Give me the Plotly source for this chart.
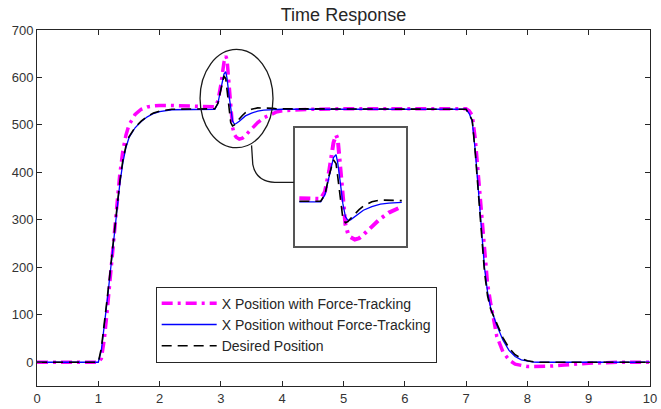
import plotly.graph_objects as go

# ---- data ----
time_s = [0.0, 1.0, 1.05, 1.1, 1.15, 1.2, 1.25, 1.3, 1.35, 1.4, 1.45, 1.5,
          1.6, 1.7, 1.8, 1.9, 2.0,
          2.2, 2.5, 2.65, 2.8, 2.9, 2.95,
          3.0, 3.05, 3.08, 3.1, 3.13, 3.16, 3.19, 3.22, 3.25, 3.3,
          3.35, 3.4, 3.5, 3.6, 3.7, 3.8, 3.85, 3.9, 4.0,
          4.5, 5.0, 6.0, 7.0,
          7.05, 7.1, 7.15, 7.2, 7.25, 7.3, 7.35, 7.4,
          7.5, 7.6, 7.7, 7.8, 7.9, 8.0, 8.1, 8.2,
          8.4, 8.6, 8.8, 9.0, 9.5, 10.0]

with_force = [0, 0, 8, 50, 115, 185, 258, 330, 395, 445, 478, 500,
              522, 533, 538, 540, 541,
              541, 540, 539, 538, 538, 550,
              585, 632, 645, 638, 592, 540, 495, 480, 474, 470,
              472, 478, 492, 505, 515, 522, 525, 527, 530,
              533, 534, 534, 534,
              530, 520, 470, 395, 310, 225, 165, 125,
              55, 22, 5, -4, -7, -9, -9, -9,
              -8, -6, -4, -2, 0, 0]

without_force = [0, 0, 25, 75, 135, 195, 260, 320, 375, 420, 452, 473,
                 494, 507, 517, 524, 528,
                 532, 533, 533, 533, 533, 545,
                 576, 607, 612, 598, 565, 530, 508, 502, 503, 508,
                 514, 519, 525, 529, 531, 532, 532, 533, 533,
                 533, 533, 533, 533,
                 524, 508, 445, 362, 275, 200, 148, 115,
                 78, 47, 25, 12, 5, 2, 0.5, 0,
                 0, 0, 0, 0, 0, 0]

desired = [0, 0, 30, 80, 140, 200, 265, 325, 380, 425, 455, 475,
           495, 508, 518, 525, 529,
           533, 534, 534, 534, 534, 545,
           578, 603, 597, 575, 535, 505, 498, 500, 505, 513,
           520, 526, 533, 536, 536, 535, 535, 534, 534,
           533, 533, 533, 533,
           522, 510, 440, 355, 265, 190, 140, 112,
           82, 52, 30, 16, 8, 3, 1, 0,
           0, 0, 0, 0, 0, 0]

series_names = ["X Position with Force-Tracking",
                "X Position without Force-Tracking",
                "Desired Position"]

x_ticks = list(range(0, 11))
y_ticks = list(range(0, 701, 100))

inset_t_range = [2.65, 3.85]

FONT = "Liberation Sans, Arial, sans-serif"

styles = [
    dict(color="#ff00ff", width=3.5, dash="11px,5px,3px,5px"),
    dict(color="#0000ff", width=1.3, dash="solid"),
    dict(color="#000000", width=1.6, dash="10px,6px"),
]

fig = go.Figure()
all_series = [with_force, without_force, desired]
for name, vals, st in zip(series_names, all_series, styles):
    fig.add_trace(go.Scatter(x=time_s, y=vals, mode="lines", name=name,
                             line=st, xaxis="x", yaxis="y"))

# inset (zoomed view of the disturbance)
for name, vals, st in zip(series_names, all_series, styles):
    xs = [t for t in time_s if inset_t_range[0] <= t <= inset_t_range[1]]
    ys = [v for t, v in zip(time_s, vals) if inset_t_range[0] <= t <= inset_t_range[1]]
    st2 = dict(st)
    if st2["width"] > 3:
        st2["width"] = 4
    fig.add_trace(go.Scatter(x=xs, y=ys, mode="lines", name=name, showlegend=False,
                             line=st2, xaxis="x2", yaxis="y2"))

axis_common = dict(showgrid=False, zeroline=False, showline=True, linecolor="#262626",
                   linewidth=1, mirror="allticks", ticks="inside", ticklen=5,
                   tickcolor="#262626", automargin=False,
                   tickfont=dict(family=FONT, size=13, color="#333333"))

fig.update_layout(
    template="none",
    width=661, height=409,
    margin=dict(l=37, r=11, t=30, b=23),
    paper_bgcolor="white", plot_bgcolor="white",
    title=dict(text="Time Response", x=0.5, xref="paper", y=0.965, yref="container",
               xanchor="center", yanchor="middle",
               font=dict(family=FONT, size=18, color="#262626")),
    xaxis=dict(range=[0, 10], tickvals=x_ticks, **axis_common),
    yaxis=dict(range=[-50, 700], tickvals=y_ticks, **axis_common),
    xaxis2=dict(domain=[0.421, 0.602], anchor="y2", range=[2.6, 3.9], automargin=False,
                showgrid=False, zeroline=False, showticklabels=False, ticks="",
                showline=True, mirror=True, linecolor="#555555", linewidth=2),
    yaxis2=dict(domain=[0.393, 0.724], anchor="x2", range=[459, 656], automargin=False,
                showgrid=False, zeroline=False, showticklabels=False, ticks="",
                showline=True, mirror=True, linecolor="#555555", linewidth=2),
    legend=dict(x=0.1936, y=0.279, xanchor="left", yanchor="top",
                bgcolor="white", bordercolor="#262626", borderwidth=1,
                font=dict(family=FONT, size=14, color="#262626"),
                itemwidth=55, tracegroupgap=0),
    showlegend=True,
)

# ellipse marking the disturbance and connector to the inset
fig.add_shape(type="circle", xref="x", yref="y", x0=2.66, x1=3.85, y0=452, y1=659,
              line=dict(color="#1a1a1a", width=1.3))
fig.add_shape(type="path", xref="x", yref="y",
              path="M 3.50,457 L 3.52,417 Q 3.57,381 3.88,379 L 4.19,379",
              line=dict(color="#1a1a1a", width=1.3))

fig.write_html("out.html", config={"displayModeBar": False},
               post_script="document.body.style.margin='0';document.body.style.padding='0';")
